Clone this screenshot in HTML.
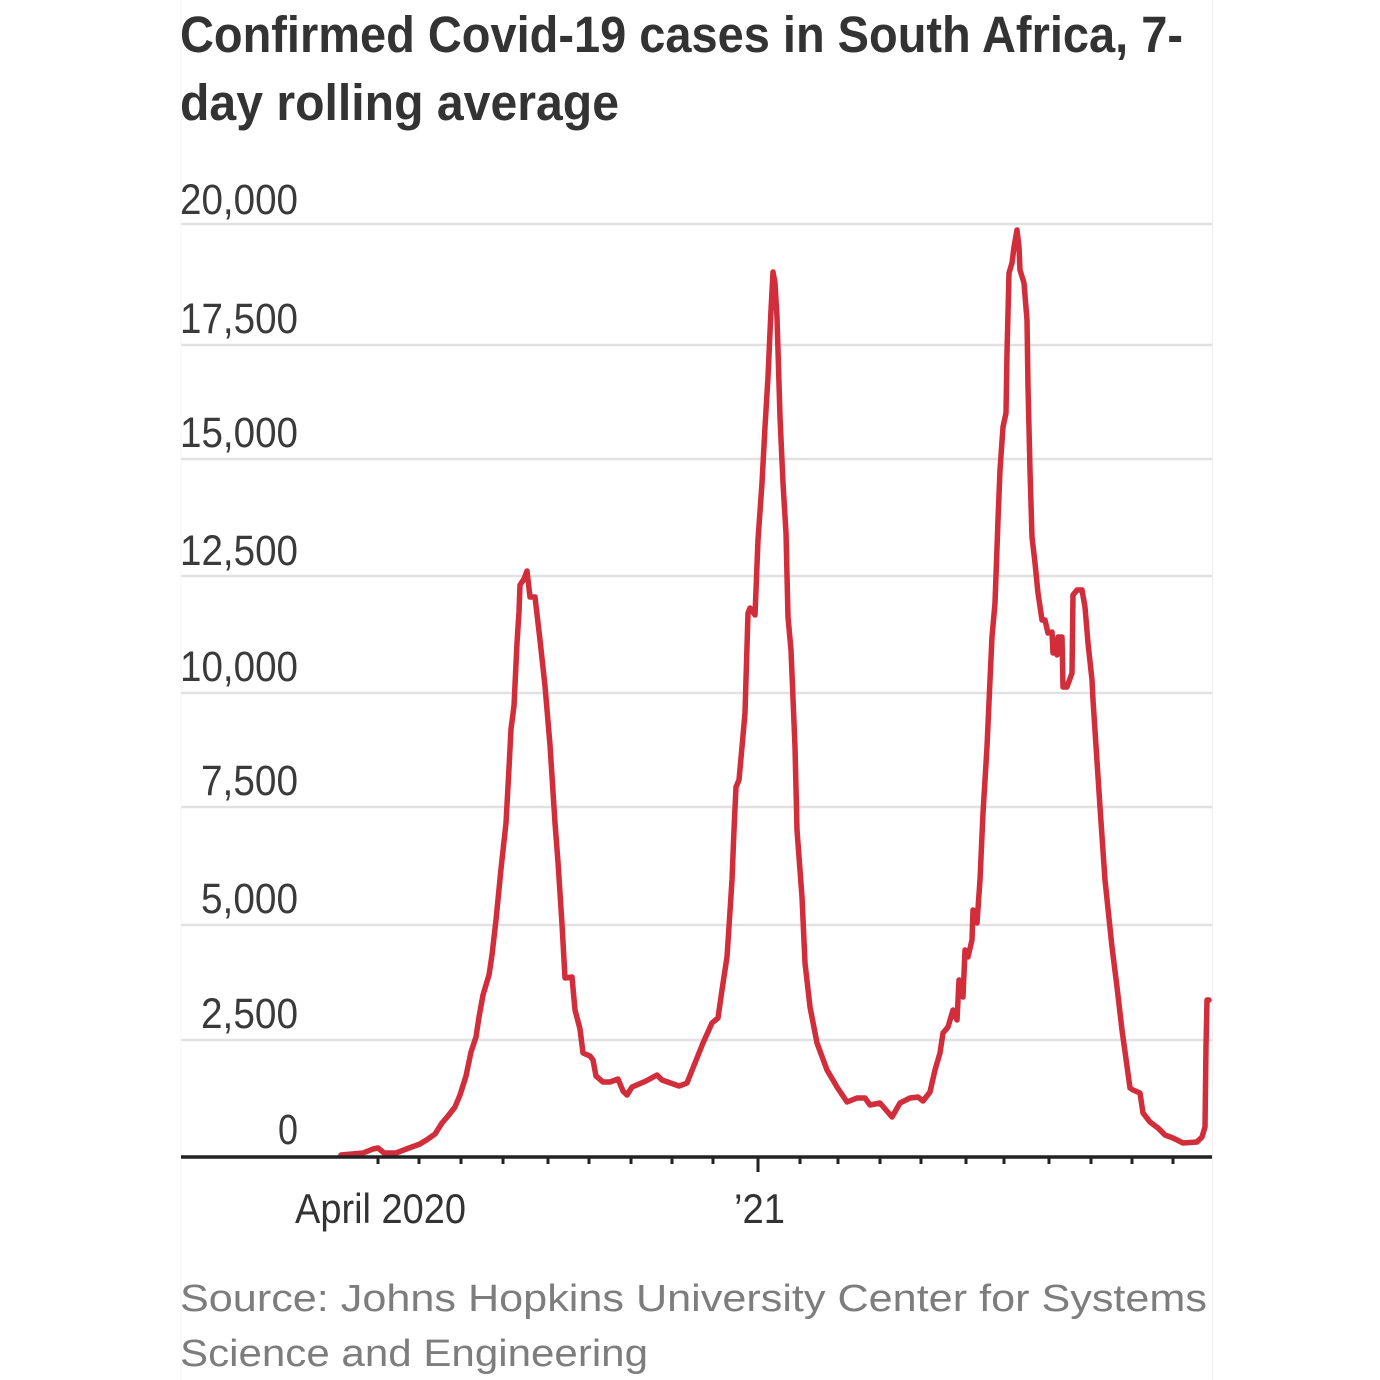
<!DOCTYPE html>
<html>
<head>
<meta charset="utf-8">
<style>
  html,body{margin:0;padding:0;background:#fff;}
  svg{display:block;}
  .t{font-family:"Liberation Sans",sans-serif;}
</style>
</head>
<body>
<svg width="1380" height="1380" viewBox="0 0 1380 1380" xmlns="http://www.w3.org/2000/svg">
  <rect x="0" y="0" width="1380" height="1380" fill="#ffffff"/>
  <line x1="181" y1="0" x2="181" y2="1380" stroke="#f4f4f4" stroke-width="1"/>
  <line x1="1212.5" y1="0" x2="1212.5" y2="1380" stroke="#f0f0f0" stroke-width="1"/>

  <text class="t" x="180" y="52" font-size="51" font-weight="bold" fill="#333333" textLength="1003" lengthAdjust="spacingAndGlyphs">Confirmed Covid-19 cases in South Africa, 7-</text>
  <text class="t" x="180" y="120" font-size="51" font-weight="bold" fill="#333333" textLength="439" lengthAdjust="spacingAndGlyphs">day rolling average</text>

  <g stroke="#e1e1e1" stroke-width="2.5">
    <line x1="181" y1="224" x2="1212" y2="224"/>
    <line x1="181" y1="345" x2="1212" y2="345"/>
    <line x1="181" y1="459" x2="1212" y2="459"/>
    <line x1="181" y1="576" x2="1212" y2="576"/>
    <line x1="181" y1="693" x2="1212" y2="693"/>
    <line x1="181" y1="807" x2="1212" y2="807"/>
    <line x1="181" y1="925" x2="1212" y2="925"/>
    <line x1="181" y1="1040" x2="1212" y2="1040"/>
  </g>

  <g class="t" font-size="43" fill="#3a3a3a" text-anchor="end">
    <text x="298" y="214" textLength="118" lengthAdjust="spacingAndGlyphs">20,000</text>
    <text x="298" y="333" textLength="118" lengthAdjust="spacingAndGlyphs">17,500</text>
    <text x="298" y="447" textLength="118" lengthAdjust="spacingAndGlyphs">15,000</text>
    <text x="298" y="565" textLength="118" lengthAdjust="spacingAndGlyphs">12,500</text>
    <text x="298" y="681" textLength="118" lengthAdjust="spacingAndGlyphs">10,000</text>
    <text x="298" y="795" textLength="97" lengthAdjust="spacingAndGlyphs">7,500</text>
    <text x="298" y="913" textLength="97" lengthAdjust="spacingAndGlyphs">5,000</text>
    <text x="298" y="1028" textLength="97" lengthAdjust="spacingAndGlyphs">2,500</text>
    <text x="298" y="1144" textLength="20" lengthAdjust="spacingAndGlyphs">0</text>
  </g>

  <polyline fill="none" stroke="#d22d3b" stroke-width="5.5" stroke-linejoin="round" stroke-linecap="round"
    points="341,1155 363,1153 373,1149 378,1148 384,1153 396,1153 409,1148 420,1144 428,1139 435,1134 442,1123 448,1116 455,1107 460,1095 466,1076 471,1052 476,1037 479,1017 483,995 489,975 492,955 496,920 501,869 506,823 509,768 511,729 514,706 517,643 519,612 520,585 524,579 527,571 530,597 535,597 540,640 545,686 550,745 555,823 558,862 562,924 565,978 572,977 575,1010 580,1029 583,1053 590,1056 593,1060 596,1076 603,1082 610,1082 618,1079 623,1091 627,1095 632,1087 646,1081 657,1075 662,1080 679,1086 682,1085 687,1083 695,1063 703,1043 712,1023 718,1018 722,990 727,957 729,927 732,880 734,830 736,787 739,780 742,747 745,713 748,613 750,608 755,615 758,540 762,483 765,427 768,377 771,310 773,272 775,283 777,317 780,417 783,483 786,533 788,617 791,650 795,747 797,830 802,897 805,963 810,1007 817,1043 827,1070 837,1087 847,1102 857,1098 865,1098 870,1105 880,1103 892,1117 900,1103 910,1098 918,1097 923,1101 930,1092 935,1070 940,1053 943,1033 948,1027 953,1010 957,1020 959,980 963,997 965,950 968,957 972,940 973,910 977,923 980,880 983,813 987,747 990,680 992,637 995,603 998,520 1000,470 1003,427 1006,413 1007,353 1009,273 1012,263 1014,247 1017,230 1019,247 1020,270 1024,283 1027,320 1028,387 1030,470 1032,537 1035,563 1038,593 1042,620 1045,620 1048,633 1052,632 1053,653 1055,640 1057,655 1058,637 1062,637 1063,687 1067,687 1072,673 1073,595 1077,590 1082,590 1085,607 1088,643 1092,680 1093,700 1100,807 1105,880 1112,947 1117,987 1122,1030 1130,1088 1133,1090 1140,1093 1143,1113 1150,1122 1158,1128 1165,1135 1173,1138 1183,1143 1197,1142 1202,1137 1205,1127 1206,1047 1207,1000 1209,1000"/>

  <line x1="181" y1="1157" x2="1212" y2="1157" stroke="#222222" stroke-width="3.5"/>
  <g stroke="#222222" stroke-width="3">
    <line x1="378" y1="1157" x2="378" y2="1164"/>
    <line x1="419" y1="1157" x2="419" y2="1164"/>
    <line x1="461" y1="1157" x2="461" y2="1164"/>
    <line x1="503" y1="1157" x2="503" y2="1164"/>
    <line x1="548" y1="1157" x2="548" y2="1164"/>
    <line x1="589" y1="1157" x2="589" y2="1164"/>
    <line x1="631" y1="1157" x2="631" y2="1164"/>
    <line x1="672" y1="1157" x2="672" y2="1164"/>
    <line x1="713" y1="1157" x2="713" y2="1164"/>
    <line x1="758" y1="1157" x2="758" y2="1172"/>
    <line x1="800" y1="1157" x2="800" y2="1164"/>
    <line x1="838" y1="1157" x2="838" y2="1164"/>
    <line x1="880" y1="1157" x2="880" y2="1164"/>
    <line x1="921" y1="1157" x2="921" y2="1164"/>
    <line x1="966" y1="1157" x2="966" y2="1164"/>
    <line x1="1004" y1="1157" x2="1004" y2="1164"/>
    <line x1="1049" y1="1157" x2="1049" y2="1164"/>
    <line x1="1091" y1="1157" x2="1091" y2="1164"/>
    <line x1="1132" y1="1157" x2="1132" y2="1164"/>
    <line x1="1173" y1="1157" x2="1173" y2="1164"/>
  </g>

  <g class="t" font-size="42" fill="#333333">
    <text x="295" y="1223" textLength="171" lengthAdjust="spacingAndGlyphs">April 2020</text>
    <text x="734" y="1223" textLength="51" lengthAdjust="spacingAndGlyphs">’21</text>
  </g>

  <g class="t" font-size="38" fill="#7d7d7d">
    <text x="180" y="1311" textLength="1027" lengthAdjust="spacingAndGlyphs">Source: Johns Hopkins University Center for Systems</text>
    <text x="180" y="1366" textLength="468" lengthAdjust="spacingAndGlyphs">Science and Engineering</text>
  </g>
</svg>
</body>
</html>
